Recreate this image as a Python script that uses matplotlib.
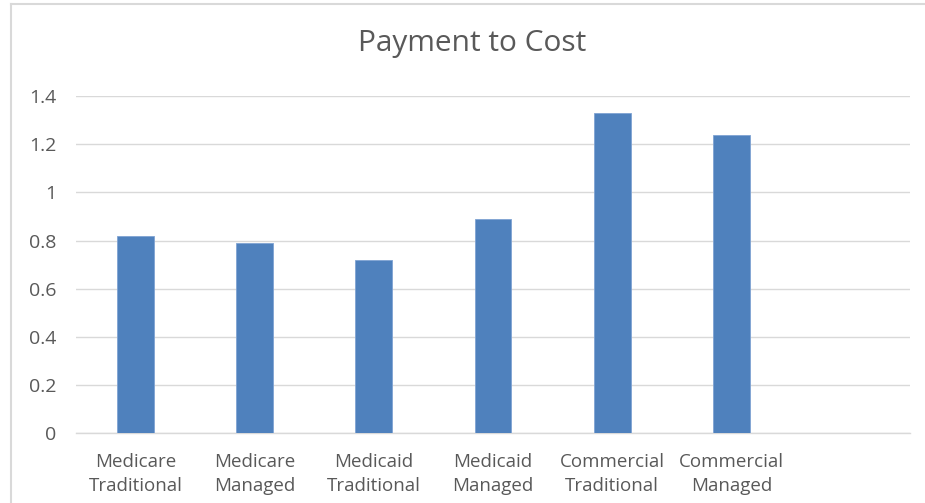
import matplotlib
matplotlib.use("Agg")
import matplotlib.pyplot as plt
from matplotlib.lines import Line2D

categories = ["Medicare\nTraditional", "Medicare\nManaged", "Medicaid\nTraditional",
              "Medicaid\nManaged", "Commercial\nTraditional", "Commercial\nManaged", ""]
values = [0.82, 0.79, 0.72, 0.89, 1.33, 1.24, None]
yticks = [0, 0.2, 0.4, 0.6, 0.8, 1.0, 1.2, 1.4]
ytick_labels = ["0", "0.2", "0.4", "0.6", "0.8", "1", "1.2", "1.4"]
title = "Payment to Cost"

plt.rcParams['font.family'] = ['Open Sans', 'DejaVu Sans']
text_color = "#595959"

fig = plt.figure(figsize=(9.25, 5.03), dpi=100)
ax = fig.add_axes([76/925, 1-433.3/503, (910-76)/925, (433.3-96)/503])

xs = list(range(len(categories)))
bx = [x for x, v in zip(xs, values) if v is not None]
bv = [v for v in values if v is not None]
ax.bar(bx, bv, width=0.31, color="#4F81BD", edgecolor="#7FA3D3", linewidth=0.6, zorder=3)

ax.set_xlim(-0.5, len(categories) - 0.5)
ax.set_ylim(0, 1.4)
ax.set_yticks(yticks)
ax.set_yticklabels(ytick_labels)
ax.set_xticks(xs)
ax.set_xticklabels(categories, linespacing=1.45)
ax.yaxis.grid(True, color="#D9D9D9", linewidth=1.0, zorder=0)
ax.set_axisbelow(True)
for s in ["top", "right", "left"]:
    ax.spines[s].set_visible(False)
ax.spines["bottom"].set_color("#D9D9D9")
ax.spines["bottom"].set_linewidth(1.0)
ax.tick_params(axis="y", length=0, colors=text_color, labelsize=14, pad=14)
ax.tick_params(axis="x", length=0, colors=text_color, labelsize=13.5, pad=14)

fig.text(472/925, 1-44/503, title, ha="center", va="center", fontsize=21.5, color=text_color)

# chart frame border (left and top visible)
fig.add_artist(Line2D([11/925, 11/925], [0, 1-4/503], transform=fig.transFigure, color="#D9D9D9", linewidth=1.5))
fig.add_artist(Line2D([11/925, 1], [1-4/503, 1-4/503], transform=fig.transFigure, color="#D9D9D9", linewidth=1.5))

fig.savefig("out.png", dpi=100, facecolor="white")
